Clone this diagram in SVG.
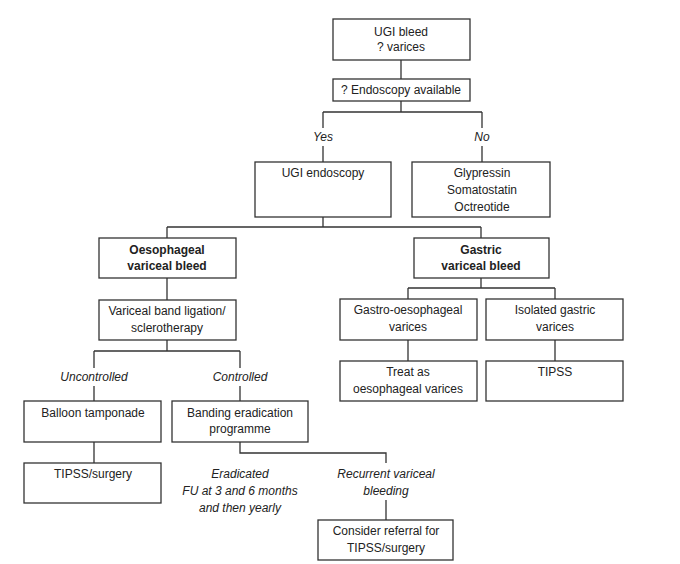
<svg xmlns="http://www.w3.org/2000/svg" width="680" height="564" viewBox="0 0 680 564">
<style>
rect{fill:#fff;stroke:#333;stroke-width:1.3}
text{font-family:"Liberation Sans",Arial,sans-serif;font-size:12px;fill:#222;text-anchor:middle;dominant-baseline:central}
.b{font-weight:bold}
.i{font-style:italic}
#connectors path{fill:none;stroke:#333;stroke-width:1.3}
</style>
<rect width="680" height="564" style="stroke:none"/>
<g id="connectors">
<path d="M401 60V79M401 101V112M323 112H482M323 112V128M323 146V162M482 112V128M482 146V162"/>
<path d="M323 217V227M167 227H481M167 227V238M481 227V238"/>
<path d="M167 278V300M167 340V351M94 351H240M94 351V368M94 386V401M240 351V368M240 386V401"/>
<path d="M94 442V463M240 442V453H386V463M386 500V520"/>
<path d="M481 278V288M408 288H555M408 288V299M555 288V299M408 340V361M555 340V361"/>
</g>
<g id="n1"><rect x="333" y="19" width="137" height="41"/><text x="401" y="32">UGI bleed</text><text x="401" y="47">? varices</text></g>
<g id="n2"><rect x="333" y="79" width="137" height="22"/><text x="401" y="90">? Endoscopy available</text></g>
<g id="l1"><text class="i" x="323" y="137">Yes</text><text class="i" x="482" y="137">No</text></g>
<g id="n3"><rect x="255" y="162" width="136" height="55"/><text x="323" y="173">UGI endoscopy</text></g>
<g id="n4"><rect x="412" y="162" width="138" height="55"/><text x="482" y="173">Glypressin</text><text x="482" y="190">Somatostatin</text><text x="482" y="207">Octreotide</text></g>
<g id="n5"><rect x="99" y="238" width="137" height="40"/><text class="b" x="167" y="250">Oesophageal</text><text class="b" x="167" y="266">variceal bleed</text></g>
<g id="n6"><rect x="414" y="238" width="135" height="40"/><text class="b" x="481" y="250">Gastric</text><text class="b" x="481" y="266">variceal bleed</text></g>
<g id="n7"><rect x="99" y="300" width="137" height="40"/><text x="167" y="311">Variceal band ligation/</text><text x="167" y="328">sclerotherapy</text></g>
<g id="n8"><rect x="340" y="299" width="137" height="41"/><text x="408" y="310">Gastro-oesophageal</text><text x="408" y="327">varices</text></g>
<g id="n9"><rect x="486" y="299" width="137" height="41"/><text x="555" y="310">Isolated gastric</text><text x="555" y="327">varices</text></g>
<g id="n10"><rect x="340" y="361" width="137" height="40"/><text x="408" y="372">Treat as</text><text x="408" y="389">oesophageal varices</text></g>
<g id="n11"><rect x="486" y="361" width="137" height="40"/><text x="555" y="372">TIPSS</text></g>
<g id="l2"><text class="i" x="94" y="377">Uncontrolled</text><text class="i" x="240" y="377">Controlled</text></g>
<g id="n12"><rect x="24" y="401" width="137" height="41"/><text x="93" y="413">Balloon tamponade</text></g>
<g id="n13"><rect x="172" y="401" width="136" height="41"/><text x="240" y="413">Banding eradication</text><text x="240" y="429">programme</text></g>
<g id="n14"><rect x="24" y="463" width="137" height="40"/><text x="93" y="474">TIPSS/surgery</text></g>
<g id="l3"><text class="i" x="240" y="474">Eradicated</text><text class="i" x="240" y="491">FU at 3 and 6 months</text><text class="i" x="240" y="508">and then yearly</text>
<text class="i" x="386" y="474">Recurrent variceal</text><text class="i" x="386" y="491">bleeding</text></g>
<g id="n15"><rect x="318" y="520" width="135" height="40"/><text x="386" y="531">Consider referral for</text><text x="386" y="548">TIPSS/surgery</text></g>
</svg>
